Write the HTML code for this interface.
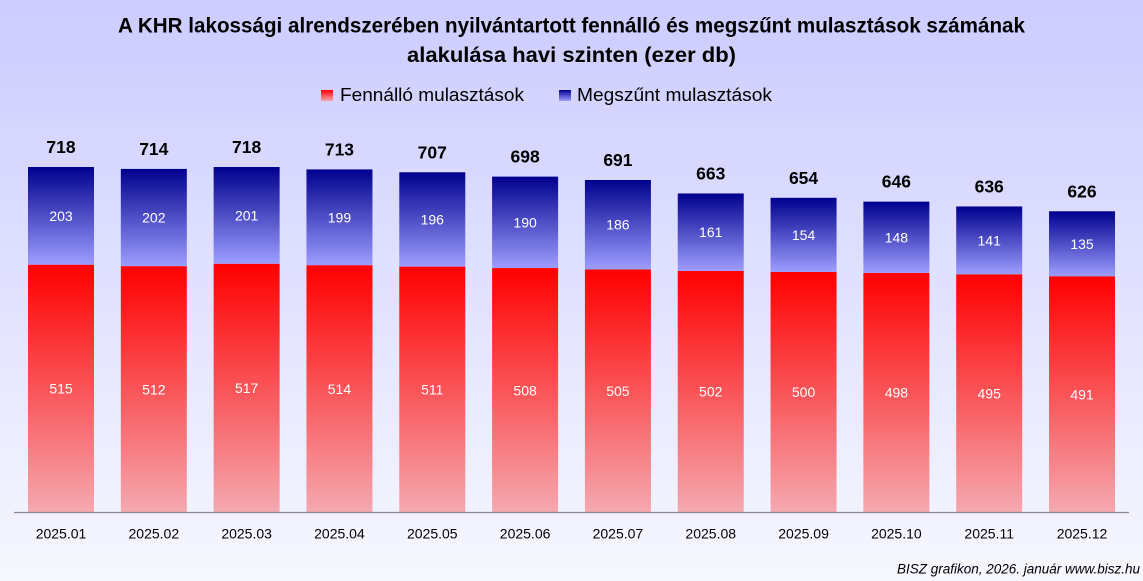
<!DOCTYPE html>
<html>
<head>
<meta charset="utf-8">
<style>
  html, body { margin:0; padding:0; }
  body { width:1143px; height:581px; overflow:hidden; }
  svg { display:block; }
  text { font-family: "Liberation Sans", "DejaVu Sans", sans-serif; }
</style>
</head>
<body>
<svg width="1143" height="581" viewBox="0 0 1143 581" xmlns="http://www.w3.org/2000/svg">
  <defs>
    <linearGradient id="bg" x1="0" y1="0" x2="0" y2="1">
      <stop offset="0" stop-color="#ccccff"/>
      <stop offset="1" stop-color="#f7f7ff"/>
    </linearGradient>
    <linearGradient id="gb" x1="0" y1="0" x2="0" y2="1">
      <stop offset="0" stop-color="#00008e"/>
      <stop offset="1" stop-color="#9d9dff"/>
    </linearGradient>
    <linearGradient id="gr" x1="0" y1="0" x2="0" y2="1">
      <stop offset="0" stop-color="#ff0000"/>
      <stop offset="1" stop-color="#f4a9b0"/>
    </linearGradient>
  </defs>
  <rect x="0" y="0" width="1143" height="581" fill="url(#bg)"/>

  <!-- Title -->
  <text x="571.5" y="32.7" text-anchor="middle" font-size="21" font-weight="bold" fill="#000" textLength="907" lengthAdjust="spacingAndGlyphs">A KHR lakossági alrendszerében nyilvántartott fennálló és megszűnt mulasztások számának</text>
  <text x="571.5" y="62" text-anchor="middle" font-size="21" font-weight="bold" fill="#000" textLength="329" lengthAdjust="spacingAndGlyphs">alakulása havi szinten (ezer db)</text>

  <!-- Legend -->
  <rect x="321" y="90" width="12" height="11" fill="url(#gr)"/>
  <text x="340" y="101" font-size="18" fill="#000" textLength="184" lengthAdjust="spacingAndGlyphs">Fennálló mulasztások</text>
  <rect x="559" y="90" width="12" height="11" fill="url(#gb)"/>
  <text x="577" y="101" font-size="18" fill="#000" textLength="195" lengthAdjust="spacingAndGlyphs">Megszűnt mulasztások</text>

  <!-- Bars: red (bottom) -->
  <g>
    <rect x="28" y="264.68" width="66" height="247.82" fill="url(#gr)"/>
    <rect x="120.82" y="266.13" width="66" height="246.37" fill="url(#gr)"/>
    <rect x="213.64" y="263.72" width="66" height="248.78" fill="url(#gr)"/>
    <rect x="306.46" y="265.16" width="66" height="247.34" fill="url(#gr)"/>
    <rect x="399.28" y="266.61" width="66" height="245.89" fill="url(#gr)"/>
    <rect x="492.1" y="268.05" width="66" height="244.45" fill="url(#gr)"/>
    <rect x="584.92" y="269.49" width="66" height="243.01" fill="url(#gr)"/>
    <rect x="677.74" y="270.94" width="66" height="241.56" fill="url(#gr)"/>
    <rect x="770.56" y="271.9" width="66" height="240.6" fill="url(#gr)"/>
    <rect x="863.38" y="272.86" width="66" height="239.64" fill="url(#gr)"/>
    <rect x="956.2" y="274.31" width="66" height="238.19" fill="url(#gr)"/>
    <rect x="1049.02" y="276.23" width="66" height="236.27" fill="url(#gr)"/>
  </g>
  <!-- Bars: blue (top) -->
  <g>
    <rect x="28" y="167" width="66" height="97.68" fill="url(#gb)"/>
    <rect x="120.82" y="168.92" width="66" height="97.21" fill="url(#gb)"/>
    <rect x="213.64" y="167" width="66" height="96.72" fill="url(#gb)"/>
    <rect x="306.46" y="169.4" width="66" height="95.76" fill="url(#gb)"/>
    <rect x="399.28" y="172.29" width="66" height="94.32" fill="url(#gb)"/>
    <rect x="492.1" y="176.62" width="66" height="91.43" fill="url(#gb)"/>
    <rect x="584.92" y="179.99" width="66" height="89.5" fill="url(#gb)"/>
    <rect x="677.74" y="193.46" width="66" height="77.48" fill="url(#gb)"/>
    <rect x="770.56" y="197.8" width="66" height="74.1" fill="url(#gb)"/>
    <rect x="863.38" y="201.64" width="66" height="71.22" fill="url(#gb)"/>
    <rect x="956.2" y="206.46" width="66" height="67.85" fill="url(#gb)"/>
    <rect x="1049.02" y="211.27" width="66" height="64.96" fill="url(#gb)"/>
  </g>

  <!-- Axis -->
  <line x1="14" y1="512.5" x2="1129" y2="512.5" stroke="#888888" stroke-width="1.2"/>

  <!-- Total labels -->
  <g font-size="17.5" font-weight="bold" fill="#000" text-anchor="middle">
    <text x="61" y="153">718</text>
    <text x="153.82" y="154.9">714</text>
    <text x="246.64" y="153">718</text>
    <text x="339.46" y="155.4">713</text>
    <text x="432.28" y="158.3">707</text>
    <text x="525.1" y="162.6">698</text>
    <text x="617.92" y="166">691</text>
    <text x="710.74" y="179.5">663</text>
    <text x="803.56" y="183.8">654</text>
    <text x="896.38" y="187.6">646</text>
    <text x="989.2" y="192.5">636</text>
    <text x="1082.02" y="197.3">626</text>
  </g>

  <!-- Blue labels -->
  <g font-size="14" fill="#ffffff" text-anchor="middle">
    <text x="61" y="220.8">203</text>
    <text x="153.82" y="222.5">202</text>
    <text x="246.64" y="220.4">201</text>
    <text x="339.46" y="222.3">199</text>
    <text x="432.28" y="224.5">196</text>
    <text x="525.1" y="227.3">190</text>
    <text x="617.92" y="229.7">186</text>
    <text x="710.74" y="237.2">161</text>
    <text x="803.56" y="239.9">154</text>
    <text x="896.38" y="242.3">148</text>
    <text x="989.2" y="245.4">141</text>
    <text x="1082.02" y="248.8">135</text>
  </g>

  <!-- Red labels -->
  <g font-size="14" fill="#ffffff" text-anchor="middle">
    <text x="61" y="393.6">515</text>
    <text x="153.82" y="394.3">512</text>
    <text x="246.64" y="393.1">517</text>
    <text x="339.46" y="393.8">514</text>
    <text x="432.28" y="394.6">511</text>
    <text x="525.1" y="395.3">508</text>
    <text x="617.92" y="396">505</text>
    <text x="710.74" y="396.7">502</text>
    <text x="803.56" y="397.2">500</text>
    <text x="896.38" y="397.7">498</text>
    <text x="989.2" y="398.4">495</text>
    <text x="1082.02" y="399.4">491</text>
  </g>

  <!-- X labels -->
  <g font-size="14" fill="#000" text-anchor="middle">
    <text x="61" y="538.3">2025.01</text>
    <text x="153.82" y="538.3">2025.02</text>
    <text x="246.64" y="538.3">2025.03</text>
    <text x="339.46" y="538.3">2025.04</text>
    <text x="432.28" y="538.3">2025.05</text>
    <text x="525.1" y="538.3">2025.06</text>
    <text x="617.92" y="538.3">2025.07</text>
    <text x="710.74" y="538.3">2025.08</text>
    <text x="803.56" y="538.3">2025.09</text>
    <text x="896.38" y="538.3">2025.10</text>
    <text x="989.2" y="538.3">2025.11</text>
    <text x="1082.02" y="538.3">2025.12</text>
  </g>

  <!-- Footer -->
  <text x="897" y="573.5" font-size="13.5" font-style="italic" fill="#000" textLength="243" lengthAdjust="spacingAndGlyphs">BISZ grafikon, 2026. január www.bisz.hu</text>
</svg>
</body>
</html>
